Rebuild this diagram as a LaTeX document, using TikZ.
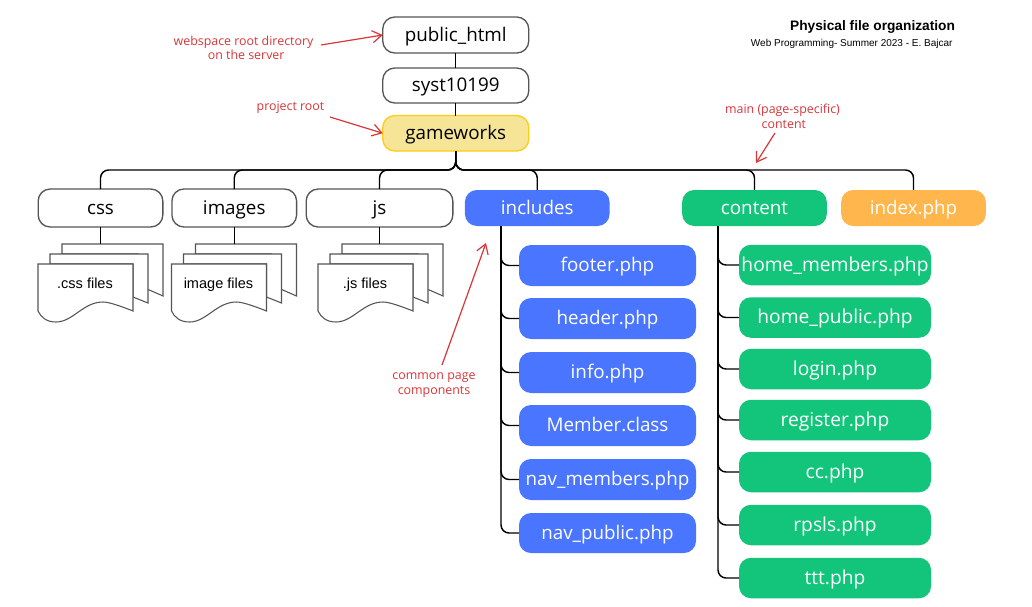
\documentclass[tikz,border=0pt]{standalone}
\usepackage{fontspec}
\setmainfont{Open Sans}
\newfontfamily\arialfont{Liberation Sans}
\usetikzlibrary{arrows.meta}
\definecolor{boxline}{HTML}{555555}
\definecolor{blueb}{HTML}{4A75FF}
\definecolor{greenb}{HTML}{12C57A}
\definecolor{orangeb}{HTML}{FFB64D}
\definecolor{yellowb}{HTML}{F6E497}
\definecolor{yellowl}{HTML}{FFCC16}
\definecolor{redl}{HTML}{D9363A}
\tikzset{x=0.75pt,y=-0.75pt,
  every node/.style={inner sep=0pt,outer sep=0pt},
  nodebox/.style={rounded corners=9pt,minimum height=#1*0.75pt,text height=12pt,text depth=3pt,font=\fontsize{14.1pt}{17pt}\selectfont,anchor=center},
  nodebox/.default=37,
  plainbox/.style={nodebox=#1,draw=boxline,line width=1pt,fill=white,text=black},
  plainbox/.default=37,
  colbox/.style n args={2}{nodebox=#2,fill=#1,text=white},
  link/.style={draw=black,line width=1.1pt,rounded corners=6pt},
  callout/.style={text=redl,font=\fontsize{9.3pt}{11pt}\selectfont,align=center},
  calloutarrow/.style={draw=redl,line width=0.9pt,-{Straight Barb[length=7pt,width=9pt]}},
  docshape/.style={draw=boxline,line width=0.8pt,fill=white,line join=miter},
  doclabel/.style={font=\arialfont\fontsize{10.9pt}{12pt}\selectfont,anchor=base,text=black},
}
\newcommand{\docstack}[1]{%
  \begin{scope}[shift={(#1,0)}]
    \draw[docshape] (24,244) -- (125,244) -- (125,296) -- (100,285) -- (100,254) -- (24,254) -- cycle;
    \draw[docshape] (12,254) -- (110,254) -- (110,303) -- (95,297) -- (95,264) -- (12,264) -- cycle;
    \draw[docshape] (0,264) -- (95,264) -- (95,311) .. controls (80,305) and (70,302) .. (65,302) .. controls (45,302) and (35,322) .. (18,322) .. controls (8,322) and (3,317) .. (0,311) -- cycle;
  \end{scope}%
}
\begin{document}
\begin{tikzpicture}
\useasboundingbox (0,0) rectangle (1032,607);
\fill[white] (0,0) rectangle (1032,607);

\coordinate (cssdoc) at (100.5,244);
\coordinate (imgdoc) at (234.25,244);
\coordinate (jsdoc) at (379.5,244);
\coordinate (inclstem) at (501,226);
\coordinate (contstem) at (718,226);

\docstack{38}
\docstack{171.5}
\docstack{318}

\node[plainbox=36,minimum width=109.5pt] (pub) at (455.75,35) {public\_html};
\node[plainbox=35,minimum width=109.5pt] (syst) at (455.75,85.5) {syst10199};
\node[nodebox=35.5,minimum width=109.5pt,draw=yellowl,line width=1pt,fill=yellowb] (game) at (455.75,133.25) {gameworks};

\node[plainbox=38,minimum width=93.5pt] (css) at (100.5,208) {css};
\node[plainbox=38,minimum width=93.5pt] (images) at (234.25,208) {images};
\node[plainbox=38,minimum width=110pt] (js) at (379.5,208) {js};

\node[colbox={blueb}{36},minimum width=108.5pt] (incl) at (537.25,208) {includes};
\node[colbox={greenb}{36},minimum width=108.5pt] (cont) at (754.5,208) {content};
\node[colbox={orangeb}{36},minimum width=108.5pt] (idx) at (913.5,208) {index.php};

\foreach \n/\t/\y/\h in {footer/footer.php/265.5/41,header/header.php/318.5/41,info/info.php/372.5/41,member/Member.class/425.5/41,navm/nav\_members.php/479.5/41,navp/nav\_public.php/533/40}{
  \node[colbox={blueb}{\h},minimum width=132.75pt] (\n) at (607.5,\y) {\t};
}
\foreach \n/\t/\y in {hm/home\_members.php/265,hp/home\_public.php/317.5,login/login.php/369,reg/register.php/420,cc/cc.php/472,rps/rpsls.php/525,ttt/ttt.php/578}{
  \node[colbox={greenb}{40.5},minimum width=144pt,font=\fontsize{14.4pt}{17pt}\selectfont] (\n) at (835,\y) {\t};
}

\node[doclabel] (csslab) at (85,288.5) {.css files};
\node[doclabel] (imglab) at (218.5,288.5) {image files};
\node[doclabel] (jslab) at (365,288.5) {.js files};

\draw[link] (pub) -- (syst);
\draw[link] (syst) -- (game);
\draw[link] (css) -- (cssdoc);
\draw[link] (images) -- (imgdoc);
\draw[link] (js) -- (jsdoc);

\foreach \t in {css.north,images.north,js.north,incl.north,cont.north,idx.north}{
  \draw[link] (game.south) -- ++(0,19) -| (\t);
}
\foreach \t in {footer,header,info,member,navm,navp}{
  \draw[link] (inclstem) |- (\t.west);
}
\foreach \t in {hm,hp,login,reg,cc,rps,ttt}{
  \draw[link] (contstem) |- (\t.west);
}

\node[callout] (c1) at (243.5,48) {webspace root directory\\\hspace*{4pt}on the server};
\node[callout] (c2) at (290.5,107.5) {project root};
\node[callout] (c3) at (782.5,116.5) {main (page-specific)\\\hspace*{2pt}content};
\node[callout] (c4) at (434,385) {common page\\components};

\coordinate (c1s) at (321,45);
\coordinate (c2s) at (330,117);
\coordinate (c3s) at (775,133);
\coordinate (c3e) at (756,163);
\coordinate (c4s) at (442,365);
\coordinate (c4e) at (486,243);
\draw[calloutarrow] (c1s) -- (pub.west);
\draw[calloutarrow] (c2s) -- (game.west);
\draw[calloutarrow] (c3s) -- (c3e);
\draw[calloutarrow] (c4s) -- (c4e);

\node[font=\arialfont\bfseries\fontsize{10.3pt}{12pt}\selectfont,anchor=base east] (title) at (955,30) {Physical file organization};
\node[font=\arialfont\fontsize{7.5pt}{9pt}\selectfont,anchor=base east] (sub) at (952.5,46) {Web Programming- Summer 2023 - E. Bajcar};
\end{tikzpicture}
\end{document}
